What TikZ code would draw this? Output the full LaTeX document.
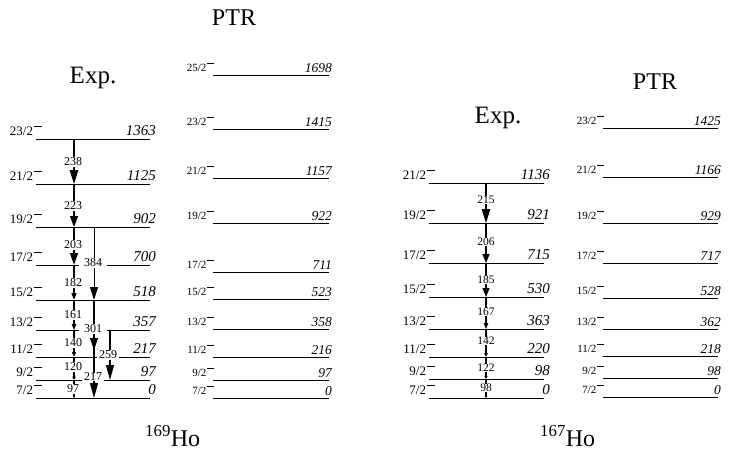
\documentclass[tikz,border=0pt]{standalone}
\usepackage{fontspec}
\setmainfont{Liberation Serif}
\usetikzlibrary{arrows.meta}
\tikzset{
  levelline/.style={line width=0.9pt, black},
  trline/.style={line width=1.2pt, black},
  arrowhd/.style 2 args={-{Triangle[length=#1pt,width=#2pt]}},
  spinexp/.style={font=\fontsize{13}{13}\selectfont, inner sep=0pt, anchor=base east, xshift=6pt, yshift=4pt},
  spinptr/.style={font=\fontsize{11}{11}\selectfont, inner sep=0pt, anchor=base east, xshift=1pt, yshift=4pt},
  enexp/.style={font=\fontsize{15}{15}\selectfont\itshape, inner sep=0pt, anchor=base east, xshift=6pt, yshift=4pt},
  enptr/.style={font=\fontsize{13.5}{13.5}\selectfont\itshape, inner sep=0pt, anchor=base east, xshift=3pt, yshift=3pt},
  trlab/.style={font=\fontsize{12}{12}\selectfont, fill=white, inner xsep=1pt, inner ysep=0.5pt},
  trlabs/.style={font=\fontsize{11.5}{11.5}\selectfont, fill=white, inner xsep=1pt, inner ysep=0.5pt},
  titleptr/.style={font=\fontsize{24}{24}\selectfont},
  titleexp/.style={font=\fontsize{25}{25}\selectfont},
}
\newcommand\spinminus{\kern0.05em\raisebox{0.62em}{\rule{0.62em}{0.07em}}}
\newcommand\mylevel[7]{%
  \coordinate (#1L) at (#2,#4);
  \coordinate (#1R) at (#3,#4);
  \draw[levelline] (#1L) -- (#1R);
  \node[spin#7] (#1s) at (#1L) {#5\spinminus};
  \node[en#7] (#1e) at (#1R) {#6};
}
\begin{document}
\begin{tikzpicture}[x=1pt,y=-1pt]
\path[use as bounding box] (0,0) rectangle (732,451);

% titles
\node[titleptr] (tptr1) at (234,18) {PTR};
\node[titleexp] (texp1) at (93,78) {Exp.};
\node[titleexp] (texp2) at (498,118) {Exp.};
\node[titleptr] (tptr2) at (655,82) {PTR};
\node[font=\fontsize{24}{24}\selectfont, anchor=base west, inner sep=0pt] (ho169) at (145,446) {\textsuperscript{169}Ho};
\node[font=\fontsize{24}{24}\selectfont, anchor=base west, inner sep=0pt] (ho167) at (540,446) {\textsuperscript{167}Ho};

% 169Ho experiment
\mylevel{a23}{36}{150}{139}{23/2}{1363}{exp}
\mylevel{a21}{36}{150}{184}{21/2}{1125}{exp}
\mylevel{a19}{36}{150}{227}{19/2}{902}{exp}
\mylevel{a17}{36}{150}{265}{17/2}{700}{exp}
\mylevel{a15}{36}{150}{300}{15/2}{518}{exp}
\mylevel{a13}{36}{150}{330}{13/2}{357}{exp}
\mylevel{a11}{36}{150}{357}{11/2}{217}{exp}
\mylevel{a9}{36}{150}{380}{9/2}{97}{exp}
\mylevel{a7}{36}{150}{398}{7/2}{0}{exp}

% 169Ho PTR
\mylevel{b25}{213}{329}{75}{25/2}{1698}{ptr}
\mylevel{b23}{213}{329}{129}{23/2}{1415}{ptr}
\mylevel{b21}{213}{329}{178}{21/2}{1157}{ptr}
\mylevel{b19}{213}{329}{223}{19/2}{922}{ptr}
\mylevel{b17}{213}{329}{272}{17/2}{711}{ptr}
\mylevel{b15}{213}{329}{299}{15/2}{523}{ptr}
\mylevel{b13}{213}{329}{329}{13/2}{358}{ptr}
\mylevel{b11}{213}{329}{357}{11/2}{216}{ptr}
\mylevel{b9}{213}{329}{380}{9/2}{97}{ptr}
\mylevel{b7}{213}{329}{398}{7/2}{0}{ptr}

% 167Ho experiment
\mylevel{c21}{429}{544}{183}{21/2}{1136}{exp}
\mylevel{c19}{429}{544}{223}{19/2}{921}{exp}
\mylevel{c17}{429}{544}{263}{17/2}{715}{exp}
\mylevel{c15}{429}{544}{297}{15/2}{530}{exp}
\mylevel{c13}{429}{544}{329}{13/2}{363}{exp}
\mylevel{c11}{429}{544}{357}{11/2}{220}{exp}
\mylevel{c9}{429}{544}{379}{9/2}{98}{exp}
\mylevel{c7}{429}{544}{398}{7/2}{0}{exp}

% 167Ho PTR
\mylevel{d23}{603}{718}{128}{23/2}{1425}{ptr}
\mylevel{d21}{603}{718}{177}{21/2}{1166}{ptr}
\mylevel{d19}{603}{718}{223}{19/2}{929}{ptr}
\mylevel{d17}{603}{718}{263}{17/2}{717}{ptr}
\mylevel{d15}{603}{718}{298}{15/2}{528}{ptr}
\mylevel{d13}{603}{718}{329}{13/2}{362}{ptr}
\mylevel{d11}{603}{718}{356}{11/2}{218}{ptr}
\mylevel{d9}{603}{718}{378}{9/2}{98}{ptr}
\mylevel{d7}{603}{718}{397}{7/2}{0}{ptr}

% transition points 169Ho main cascade (x=74)
\coordinate (m23) at (74,139);
\coordinate (m21) at (74,184);
\coordinate (m19) at (74,227);
\coordinate (m17) at (74,265);
\coordinate (m15) at (74,300);
\coordinate (m13) at (74,330);
\coordinate (m11) at (74,357);
\coordinate (m9) at (74,380);
\coordinate (m7) at (74,398);
% side cascade (x=94)
\coordinate (s19) at (94,227);
\coordinate (s15) at (94,300);
\coordinate (s11a) at (94,350);
\coordinate (s11) at (94,357);
\coordinate (s7) at (94,398);
% 259 transition (x=110)
\coordinate (r13) at (110,330);
\coordinate (r9) at (110,380);

\draw[trline, arrowhd={14}{8.5}] (m23) -- (m21);
\draw[trline, arrowhd={11}{8}] (m21) -- (m19);
\draw[trline, arrowhd={12}{8}] (m19) -- (m17);
\draw[trline, arrowhd={7}{5}] (m17) -- (m15);
\draw[trline, arrowhd={6}{4.5}] (m15) -- (m13);
\draw[trline, arrowhd={5}{4}] (m13) -- (m11);
\draw[trline, arrowhd={3.5}{3.5}] (m11) -- (m9);
\draw[trline, arrowhd={2.5}{2.5}] (m9) -- (m7);

\draw[trline, line width=0.9pt, arrowhd={13}{8}] (s19) -- (s15);
\draw[trline] (s15) -- (s11);
\draw[trline, arrowhd={12}{8}] (s15) -- (s11a);
\draw[trline, arrowhd={15}{8}] (s11) -- (s7);
\draw[trline, arrowhd={15}{8}] (r13) -- (r9);

\node[trlab] (l238) at (73,162) {238};
\node[trlab] (l223) at (73,206) {223};
\node[trlab] (l203) at (73,245) {203};
\node[trlab] (l182) at (73,283) {182};
\node[trlab] (l161) at (73,315) {161};
\node[trlab] (l140) at (73,343) {140};
\node[trlab] (l120) at (73,367) {120};
\node[trlab] (l97) at (73,389) {97};
\node[trlab, inner xsep=5pt] (l384) at (93,263) {384};
\node[trlab, inner xsep=5pt] (l301) at (93,329) {301};
\node[trlab, inner xsep=2pt] (l259) at (108,355) {259};
\node[trlab, inner xsep=2pt] (l217) at (93,377) {217};

% 167Ho cascade (x=486)
\coordinate (n21) at (486,183);
\coordinate (n19) at (486,223);
\coordinate (n17) at (486,263);
\coordinate (n15) at (486,297);
\coordinate (n13) at (486,329);
\coordinate (n11) at (486,357);
\coordinate (n9) at (486,379);
\coordinate (n7) at (486,398);

\draw[trline, arrowhd={14}{8.5}] (n21) -- (n19);
\draw[trline, arrowhd={9}{7}] (n19) -- (n17);
\draw[trline, arrowhd={9}{7}] (n17) -- (n15);
\draw[trline, arrowhd={6}{4.5}] (n15) -- (n13);
\draw[trline, arrowhd={4}{3.5}] (n13) -- (n11);
\draw[trline, arrowhd={3}{3}] (n11) -- (n9);
\draw[trline, arrowhd={2}{2}] (n9) -- (n7);

\node[trlabs] (k215) at (486,200) {215};
\node[trlabs] (k206) at (486,242) {206};
\node[trlabs] (k185) at (486,280) {185};
\node[trlabs] (k167) at (486,312) {167};
\node[trlabs] (k142) at (486,341) {142};
\node[trlabs] (k122) at (486,368) {122};
\node[trlabs] (k98) at (486,388) {98};
\end{tikzpicture}
\end{document}
